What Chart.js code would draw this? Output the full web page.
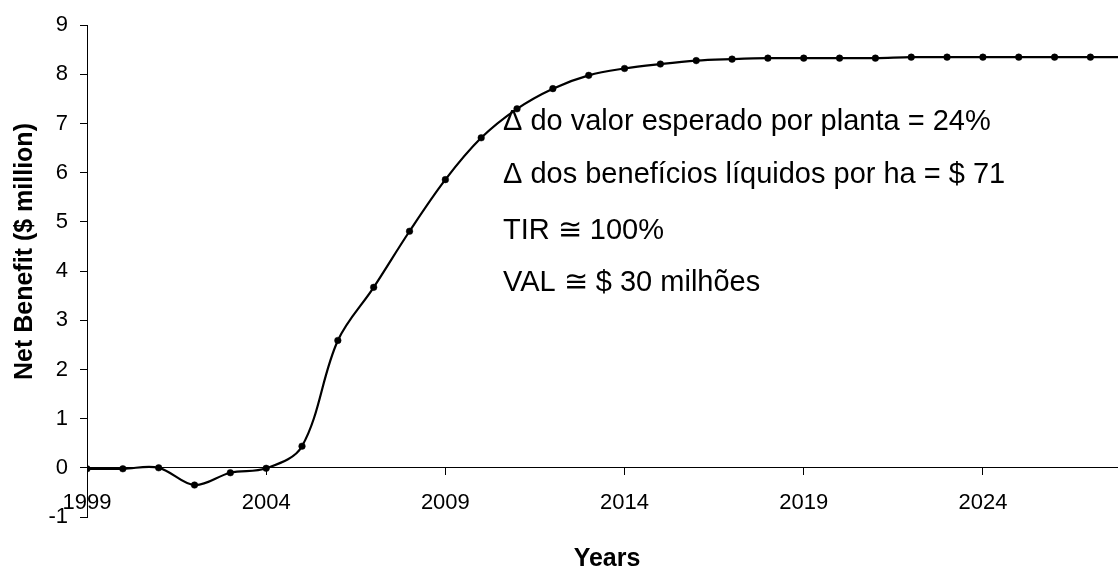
<!DOCTYPE html>
<html>
<head>
<meta charset="utf-8">
<script src="https://cdn.jsdelivr.net/npm/chart.js@4/dist/chart.umd.min.js"></script>
<style>
  html, body { margin: 0; padding: 0; background: #fff; }
  #wrap { width: 1118px; height: 569px; position: relative; }
</style>
</head>
<body>
<div id="wrap"><canvas id="c" width="1118" height="569"></canvas></div>
<script>
const years = [1999, 2000, 2001, 2002, 2003, 2004, 2005, 2006, 2007, 2008,
               2009, 2010, 2011, 2012, 2013, 2014, 2015, 2016, 2017, 2018,
               2019, 2020, 2021, 2022, 2023, 2024, 2025, 2026, 2027, 2028];
const netBenefit = [-0.02, -0.02, 0.00, -0.35, -0.10, -0.01, 0.44, 2.59, 3.67, 4.81,
                    5.86, 6.71, 7.30, 7.71, 7.98, 8.12, 8.21, 8.28, 8.31, 8.33,
                    8.33, 8.33, 8.33, 8.35, 8.35, 8.35, 8.35, 8.35, 8.35, 8.35];
const xTickLabels = [1999, 2004, 2009, 2014, 2019, 2024];
const yTickLabels = [-1, 0, 1, 2, 3, 4, 5, 6, 7, 8, 9];
const yAxisTitle = 'Net Benefit ($ million)';
const xAxisTitle = 'Years';
const notes = [
  '\u0394 do valor esperado por planta = 24%',
  '\u0394 dos benefícios líquidos por ha = $ 71',
  'TIR \u2245 100%',
  'VAL \u2245 $ 30 milhões'
];

const FONT = '"Liberation Sans", Arial, sans-serif';

const textPlugin = {
  id: 'texts',
  afterDraw(chart) {
    const ctx = chart.ctx;
    ctx.save();
    ctx.fillStyle = '#000';
    ctx.font = 'bold 25px ' + FONT;
    ctx.save();
    ctx.translate(31.5, 380);
    ctx.rotate(-Math.PI / 2);
    ctx.textAlign = 'left';
    ctx.textBaseline = 'alphabetic';
    ctx.fillText(yAxisTitle, 0, 0);
    ctx.restore();
    ctx.textAlign = 'center';
    ctx.textBaseline = 'alphabetic';
    ctx.fillText(xAxisTitle, 607, 565.5);
    ctx.font = '29px ' + FONT;
    ctx.textAlign = 'left';
    const baselines = [130, 182.5, 238.5, 290.5];
    notes.forEach((t, i) => ctx.fillText(t, 503, baselines[i]));
    ctx.restore();
  }
};

new Chart(document.getElementById('c'), {
  type: 'line',
  data: {
    datasets: [{
      data: years.map((y, i) => ({ x: y, y: netBenefit[i] })),
      borderColor: '#000',
      backgroundColor: '#000',
      borderWidth: 2.2,
      pointRadius: 3.3,
      pointBorderWidth: 0.5,
      pointBackgroundColor: '#000',
      pointBorderColor: '#000',
      tension: 0.35,
      fill: false
    }]
  },
  options: {
    responsive: false,
    animation: false,
    devicePixelRatio: 1,
    layout: { autoPadding: false, padding: { top: 22, bottom: 52, left: 0, right: 0 } },
    plugins: { legend: { display: false }, tooltip: { enabled: false }, title: { display: false } },
    scales: {
      x: {
        type: 'linear',
        position: { y: 0 },
        min: 1999,
        max: 2027.77,
        afterBuildTicks: (s) => { s.ticks = xTickLabels.map(v => ({ value: v })); },
        ticks: {
          callback: (v) => String(v),
          font: { family: FONT, size: 22 },
          color: '#000',
          padding: 15,
          maxRotation: 0,
          autoSkip: false
        },
        grid: { display: true, drawOnChartArea: false, drawTicks: true, tickLength: 7, color: '#000', lineWidth: 1 },
        border: { display: true, color: '#000', width: 1 }
      },
      y: {
        type: 'linear',
        min: -1,
        max: 9,
        afterBuildTicks: (s) => { s.ticks = yTickLabels.map(v => ({ value: v })); },
        afterFit: (s) => { s.width = 87; },
        ticks: {
          callback: (v) => String(v),
          font: { family: FONT, size: 22 },
          color: '#000',
          padding: 12
        },
        grid: { display: true, drawOnChartArea: false, drawTicks: true, tickLength: 7, color: '#000', lineWidth: 1 },
        border: { display: true, color: '#000', width: 1 }
      }
    }
  },
  plugins: [textPlugin]
});
</script>
</body>
</html>
